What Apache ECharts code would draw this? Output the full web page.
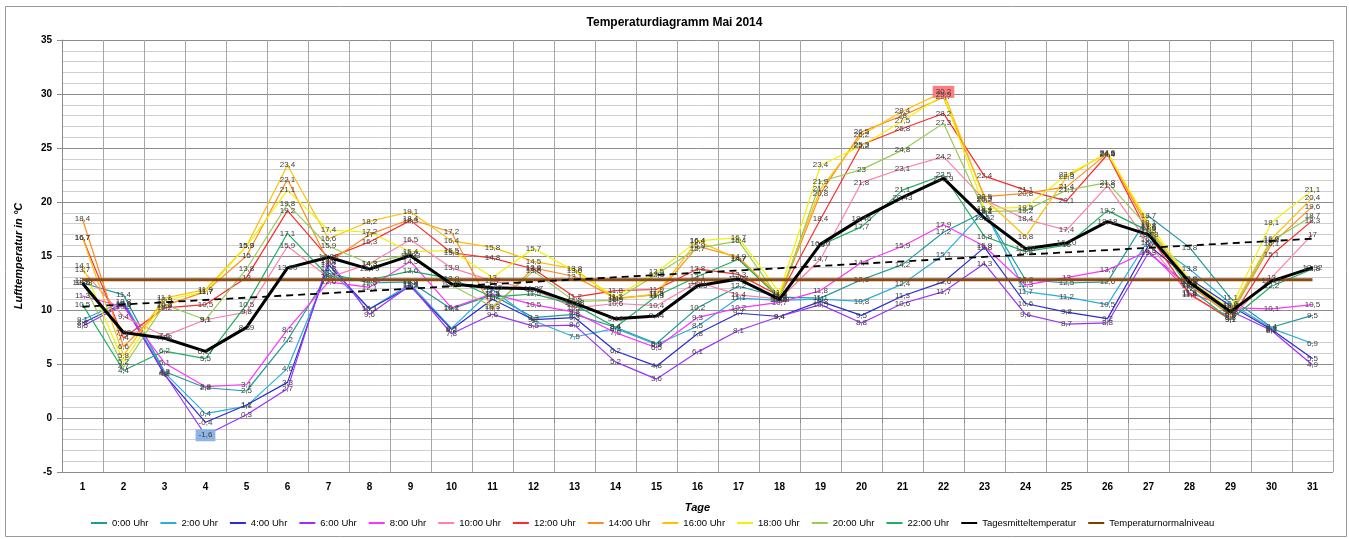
<!DOCTYPE html>
<html>
<head>
<meta charset="utf-8">
<title>Temperaturdiagramm Mai 2014</title>
<script src="https://cdn.jsdelivr.net/npm/echarts@6/dist/echarts.min.js"></script>
<style>
  html, body { margin: 0; padding: 0; background: #fff; }
  #chart { width: 1349px; height: 539px; }
</style>
</head>
<body>
<div id="chart"></div>
<script>
// ========== Daten ==========
const days = Array.from({ length: 31 }, (_, i) => String(i + 1));

const h00 = [12.5, 11.4, 4.3, 2.8, 2.5, 7.2, 13.4, 12.5, 12.6, 10.1, 11.4, 9.3, 9.6, 8.4, 6.9, 10.2, 12.2, 11.2, 11.1, 12.8, 14.2, 17.2, 19.1, 12.8, 12.5, 12.6, 18.7, 15.8, 11.1, 8.4, 9.5];
const h02 = [9.1, 10.8, 4.2, 0.4, 1.1, 4.6, 13.8, 10.1, 12.4, 8.3, 11.9, 9.0, 7.5, 8.3, 6.8, 8.5, 11.1, 10.9, 11.0, 10.8, 12.4, 15.1, 19.2, 11.7, 11.2, 10.5, 16.5, 13.8, 10.6, 8.3, 6.9];
const h04 = [8.8, 10.6, 4.0, -0.4, 1.2, 3.3, 14.2, 10.1, 12.2, 8.2, 11.0, 9.1, 9.3, 6.2, 4.8, 7.8, 9.7, 9.4, 10.8, 9.5, 11.3, 12.6, 15.8, 10.6, 9.8, 9.2, 16.0, 12.9, 10.4, 8.2, 5.5];
const h06 = [8.5, 10.5, 4.1, -1.6, 0.3, 2.7, 14.6, 9.6, 12.3, 7.8, 9.6, 8.5, 8.6, 5.2, 3.6, 6.1, 8.1, 9.4, 10.5, 8.8, 10.6, 11.7, 14.3, 9.6, 8.7, 8.8, 15.3, 12.2, 9.9, 8.1, 4.9];
const h08 = [11.3, 10.3, 5.1, 2.9, 3.1, 8.2, 12.6, 12.1, 14.5, 10.2, 11.5, 10.5, 9.8, 7.9, 6.5, 9.3, 10.2, 10.7, 11.8, 14.4, 15.9, 17.9, 15.9, 12.3, 13.0, 13.7, 15.5, 11.6, 10.2, 10.1, 10.5];
const h10 = [13.7, 9.4, 7.6, 9.1, 9.8, 15.9, 13.0, 14.3, 16.5, 13.9, 12.7, 11.9, 10.2, 10.6, 10.4, 12.6, 11.4, 11.0, 14.7, 21.8, 23.1, 24.2, 20.2, 18.4, 17.4, 21.5, 16.2, 11.4, 9.3, 13.0, 17.0];
const h12 = [16.7, 7.4, 10.2, 10.5, 13.0, 19.2, 14.8, 16.3, 18.3, 15.3, 14.8, 13.8, 11.2, 11.8, 11.9, 13.8, 13.3, 11.3, 18.4, 25.3, 26.8, 28.2, 22.4, 21.1, 20.1, 24.4, 17.0, 11.5, 9.1, 15.1, 18.3];
const h14 = [18.4, 6.6, 10.4, 11.7, 15.0, 22.1, 14.4, 17.0, 18.4, 17.2, 10.1, 13.9, 13.1, 11.1, 11.4, 15.9, 14.9, 11.2, 20.8, 26.5, 28.0, 29.7, 20.5, 20.8, 21.4, 24.5, 17.5, 12.3, 9.5, 16.1, 19.6];
const h16 = [16.7, 5.8, 11.1, 11.9, 15.9, 23.4, 16.6, 18.2, 19.1, 16.4, 15.8, 14.5, 13.8, 11.0, 11.5, 16.4, 14.7, 11.4, 21.2, 26.2, 28.4, 30.2, 20.3, 16.8, 22.3, 24.6, 17.8, 12.6, 9.8, 16.6, 20.4];
const h18 = [14.1, 5.2, 10.9, 11.7, 15.9, 21.1, 17.4, 17.2, 15.4, 15.5, 13.0, 15.7, 13.6, 11.2, 13.5, 16.4, 16.7, 11.6, 23.4, 25.2, 27.5, 29.9, 19.4, 19.5, 22.5, 24.5, 18.1, 12.8, 10.1, 18.1, 21.1];
const h20 = [12.7, 4.7, 10.5, 9.1, 13.8, 19.8, 15.9, 14.3, 15.2, 12.3, 10.3, 13.6, 10.8, 10.9, 13.3, 15.7, 16.4, 11.0, 21.9, 23.0, 24.8, 27.3, 19.1, 19.2, 21.1, 21.8, 17.6, 12.4, 9.6, 16.4, 18.7];
const h22 = [10.5, 4.4, 6.2, 5.5, 10.5, 17.1, 13.1, 12.8, 13.6, 12.9, 11.2, 11.5, 10.5, 8.4, 11.3, 13.1, 14.7, 11.1, 16.0, 17.7, 21.1, 22.5, 16.8, 15.4, 16.0, 19.2, 17.3, 12.0, 9.1, 12.2, 13.8];

const tagesmittel = [12.48, 7.92, 7.38, 6.17, 8.39, 13.90, 14.88, 13.79, 15.03, 12.40, 12.05, 11.97, 10.63, 9.18, 9.44, 12.25, 12.87, 10.98, 16.10, 18.46, 20.43, 22.19, 18.52, 15.68, 16.20, 18.18, 16.98, 12.57, 9.83, 12.67, 13.92];
const normalniveau = 12.8;
const trendStart = 10.3;   // Trendlinie Tag 1
const trendEnd = 16.6;     // Trendlinie Tag 31

const hourSeries = [
  { name: '0:00 Uhr', data: h00, color: '#1f9a9a' },
  { name: '2:00 Uhr', data: h02, color: '#2aaedc' },
  { name: '4:00 Uhr', data: h04, color: '#2b2bd6' },
  { name: '6:00 Uhr', data: h06, color: '#9b30ff' },
  { name: '8:00 Uhr', data: h08, color: '#ff33ff' },
  { name: '10:00 Uhr', data: h10, color: '#ff7fa8' },
  { name: '12:00 Uhr', data: h12, color: '#ff2a2a' },
  { name: '14:00 Uhr', data: h14, color: '#ff8c1a' },
  { name: '16:00 Uhr', data: h16, color: '#ffc000' },
  { name: '18:00 Uhr', data: h18, color: '#f2f200' },
  { name: '20:00 Uhr', data: h20, color: '#99cc55' },
  { name: '22:00 Uhr', data: h22, color: '#1db062' }
];

const FONT = '"Liberation Sans", Arial, sans-serif';

// ========== Hilfsfunktionen ==========
function fmt1(v) { return String(Math.round(v * 10) / 10).replace('.', ','); }
function fmt2(v) { return v.toFixed(2).replace('.', ','); }

// Min/Max-Wert farbig hinterlegen
function withHighlights(values) {
  const all = hourSeries.flatMap(s => s.data);
  const min = Math.min(...all), max = Math.max(...all);
  return values.map(v => {
    if (v === min) return { value: v, label: { backgroundColor: '#8db4e2', padding: [2, 3] } };
    if (v === max) return { value: v, label: { backgroundColor: '#ff7c80', padding: [2, 3] } };
    return v;
  });
}

function buildSeries() {
  const label = { show: true, position: 'inside', fontSize: 8, fontFamily: FONT, color: '#404040' };
  const list = hourSeries.map(s => ({
    name: s.name,
    type: 'line',
    data: withHighlights(s.data),
    color: s.color,
    symbol: 'circle',
    symbolSize: 1,
    lineStyle: { width: 1.2, color: s.color },
    label: { ...label, formatter: p => fmt1(p.value) }
  }));
  list.push({
    name: 'Temperaturnormalniveau',
    type: 'line',
    data: days.map(() => normalniveau),
    color: '#7f3f00',
    symbol: 'none',
    lineStyle: { width: 3, color: '#8b4a12' },
    z: 4
  });
  list.push({
    name: 'Trend',
    type: 'line',
    data: days.map((d, i) => i === 0 ? trendStart : (i === days.length - 1 ? trendEnd : null)),
    connectNulls: true,
    symbol: 'none',
    lineStyle: { width: 1.8, color: '#000', type: [7, 5] },
    z: 4
  });
  list.push({
    name: 'Tagesmitteltemperatur',
    type: 'line',
    data: tagesmittel,
    color: '#000',
    symbol: 'circle',
    symbolSize: 1,
    lineStyle: { width: 3, color: '#000' },
    label: { ...label, formatter: p => fmt2(p.value) },
    z: 5
  });
  return list;
}

// ========== Diagramm ==========
function init() {
  const chart = echarts.init(document.getElementById('chart'), null, { renderer: 'canvas' });
  chart.setOption({
    animation: false,
    backgroundColor: '#fff',
    textStyle: { fontFamily: FONT },
    title: {
      text: 'Temperaturdiagramm Mai 2014',
      left: 'center', top: 12,
      textStyle: { fontSize: 12, fontWeight: 'bold', color: '#000', fontFamily: FONT }
    },
    graphic: [{
      type: 'rect', left: 3, top: 4,
      shape: { width: 1341, height: 530 },
      style: { fill: 'none', stroke: '#9a9a9a', lineWidth: 1 }
    }],
    grid: { left: 62, right: 16, top: 40, bottom: 67 },
    legend: {
      bottom: 6, left: 86,
      icon: 'rect', itemWidth: 16, itemHeight: 2, itemGap: 12,
      textStyle: { fontSize: 9.5, color: '#000', fontFamily: FONT },
      data: [...hourSeries.map(s => s.name), 'Tagesmitteltemperatur', 'Temperaturnormalniveau']
    },
    xAxis: {
      type: 'category',
      data: days,
      boundaryGap: true,
      name: 'Tage', nameLocation: 'middle', nameGap: 30,
      nameTextStyle: { fontSize: 11, fontWeight: 'bold', fontStyle: 'italic', color: '#000' },
      axisLine: { lineStyle: { color: '#8c8c8c' } },
      axisTick: { show: true, lineStyle: { color: '#8c8c8c' } },
      axisLabel: { fontSize: 10, fontWeight: 'bold', color: '#000', margin: 10 },
      splitLine: { show: true, lineStyle: { color: '#a6a6a6' } }
    },
    yAxis: {
      type: 'value',
      min: -5, max: 35, interval: 5,
      name: 'Lufttemperatur in °C', nameLocation: 'middle', nameGap: 38,
      nameTextStyle: { fontSize: 11, fontWeight: 'bold', fontStyle: 'italic', color: '#000' },
      axisLine: { show: true, lineStyle: { color: '#8c8c8c' } },
      axisTick: { show: true, length: 5, lineStyle: { color: '#8c8c8c' } },
      axisLabel: { fontSize: 10, fontWeight: 'bold', color: '#000', margin: 10 },
      splitLine: { show: true, lineStyle: { color: '#8c8c8c' } },
      minorTick: { show: false, splitNumber: 5 },
      minorSplitLine: { show: true, lineStyle: { color: '#cfcfcf' } }
    },
    series: buildSeries()
  });
}

init();
</script>
</body>
</html>
